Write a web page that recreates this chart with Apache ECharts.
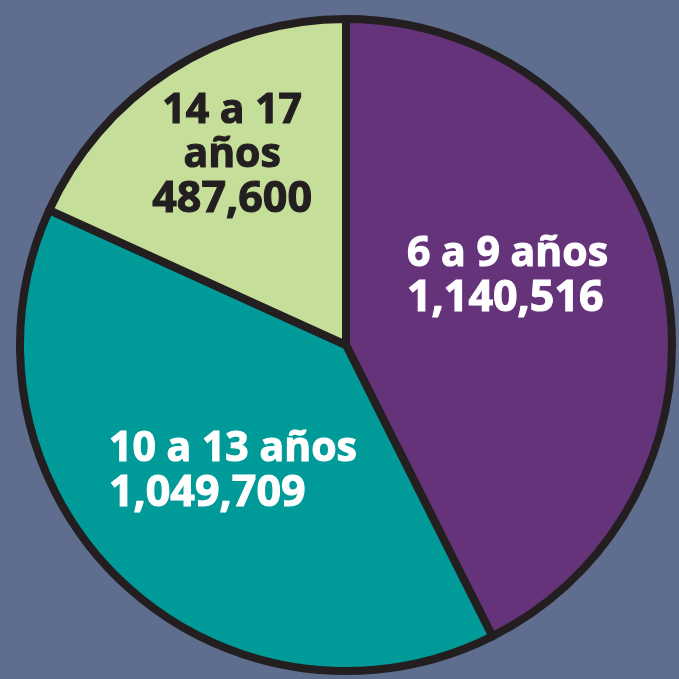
<!DOCTYPE html>
<html>
<head>
<meta charset="utf-8">
<script src="https://cdn.jsdelivr.net/npm/echarts@6/dist/echarts.min.js"></script>
<style>
  html, body { margin: 0; padding: 0; background: #5f6e8e; }
  #chart { width: 679px; height: 679px; }
</style>
</head>
<body>
<div id="chart"></div>
<script>
// Age groups and population counts
const categories = ['6 a 9 años', '10 a 13 años', '14 a 17 años'];
const values = [1140516, 1049709, 487600];

// Slice colours, label colours and label placement tweaks
const sliceColors = ['#65337a', '#009a99', '#c5df9b'];
const labelColors = ['#ffffff', '#ffffff', '#231f20'];
const labelAlign = ['left', 'left', 'center'];
const labelShift = [[0, -30], [2, 7], [-24, -50]];

function fmt(n) {
  return n.toLocaleString('en-US');
}

function richFor(i) {
  const base = {
    fontFamily: 'Open Sans',
    fontWeight: 'bold',
    lineHeight: 44,
    color: labelColors[i],
    align: labelAlign[i],
    textBorderColor: labelColors[i],
    textBorderWidth: 1.1
  };
  return {
    t: Object.assign({}, base, { fontSize: 41 }),
    n: Object.assign({}, base, { fontSize: 43 })
  };
}

const data = categories.map((name, i) => ({
  name: name,
  value: values[i],
  itemStyle: { color: sliceColors[i] },
  label: {
    color: labelColors[i],
    formatter: i === 2
      ? '{t|14 a 17}\n{t|años}\n{n|' + fmt(values[i]) + '}'
      : '{t|' + name + '}\n{n|' + fmt(values[i]) + '}',
    rich: richFor(i)
  }
}));

const chart = echarts.init(document.getElementById('chart'));
chart.setOption({
  backgroundColor: '#5f6e8e',
  animation: false,
  series: [{
    type: 'pie',
    center: [346, 345],
    radius: 326,
    startAngle: 90,
    clockwise: true,
    silent: true,
    itemStyle: {
      borderColor: '#231f20',
      borderWidth: 8,
      borderJoin: 'round'
    },
    label: {
      show: true,
      position: 'inside',
      fontFamily: 'Open Sans',
      fontWeight: 'bold',
      fontSize: 41
    },
    labelLine: { show: false },
    labelLayout: function (params) {
      const s = labelShift[params.dataIndex];
      return { dx: s[0], dy: s[1] };
    },
    data: data
  }]
});
</script>
</body>
</html>
